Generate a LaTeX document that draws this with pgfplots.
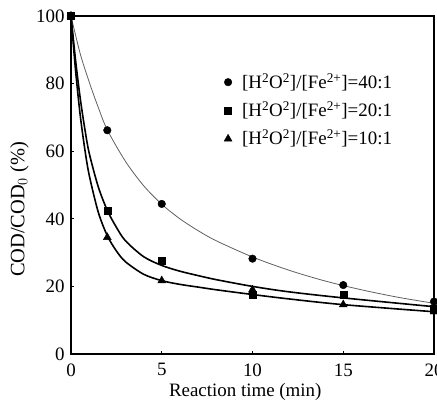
\documentclass[border=0pt]{standalone}
\usepackage{pgfplots}
\pgfplotsset{compat=1.18}
\usepackage{fontspec}
\setmainfont{Liberation Serif}

\begin{document}
\fontsize{19}{22}\selectfont
\begin{tikzpicture}
\begin{axis}[
name=ax,
scale only axis,
width=363bp, height=338bp,
xmin=0, xmax=20, ymin=0, ymax=100,
xtick={0,5,10,15,20}, ytick={0,20,40,60,80,100},
axis line style={line width=2bp},
tick style={line width=0.8bp, black},
major tick length=3bp,
tick align=inside,
xtick pos=bottom, ytick pos=left,
tick label style={font=\fontsize{19}{22}\selectfont},
xticklabel style={yshift=-3bp},
/pgf/number format/assume math mode=true,
xlabel={Reaction time (min)},
ylabel={COD/COD$_0$ (\%)},
xlabel style={font=\fontsize{19}{22}\selectfont, at={(axis description cs:0.48,-0.113)}, anchor=center},
ylabel style={font=\fontsize{20.5}{22}\selectfont, at={(axis description cs:-0.142,0.428)}, anchor=center},
legend style={draw=none, fill=none, at={(0.413,0.843)}, anchor=north west,
  font=\fontsize{19}{22}\selectfont, row sep=6.5bp,
  /tikz/every odd column/.append style={column sep=8bp}},
legend cell align=left,
clip=false,
]
% fitted curves
\addplot[gray!75!black, line width=0.8bp, smooth, forget plot] coordinates {
(0,100)(0.5,89)(1,80.5)(1.5,73)(2,66.3)(3,57)(4,49.8)(5,44.3)(6,40)(7,36.5)(8,33.5)(10,28.7)(12,24.8)(14,21.6)(16,19)(18,16.8)(20,15)};
\addplot[black, line width=1.6bp, smooth, forget plot] coordinates {
(0,100)(0.25,87)(0.5,76)(0.75,67)(1,59.5)(1.5,49.5)(2,42.5)(2.5,37.5)(3,33.5)(4,28.8)(5,26.2)(6,24.5)(7,23.2)(8,22)(10,20)(12,18.4)(15,16.6)(20,14)};
\addplot[black, line width=1.6bp, smooth, forget plot] coordinates {
(0,100)(0.25,84)(0.5,71)(0.75,61)(1,53)(1.5,42)(2,35)(2.5,30.5)(3,27.3)(4,23.6)(5,21.7)(6,20.6)(7,19.8)(8,19)(10,17.6)(12,16.3)(15,14.6)(20,12.5)};
% data
\addplot[only marks, mark=*, mark size=3.8bp, black] coordinates {
(0,100)(2,66.2)(5,44.4)(10,28.2)(15,20.4)(20,15.5)};
\addlegendentry{[H\textsuperscript{2}O\textsuperscript{2}]/[Fe\textsuperscript{2+}]=40:1}
\addplot[only marks, mark=square*, mark size=3.5bp, black] coordinates {
(0,100)(2,42.4)(5,27.6)(10,17.6)(15,17.6)(20,13.5)};
\addlegendentry{[H\textsuperscript{2}O\textsuperscript{2}]/[Fe\textsuperscript{2+}]=20:1}
\addplot[only marks, mark=triangle*, mark size=4.6bp, black] coordinates {
(0,100)(2,34.5)(5,21.7)(10,19)(15,14.6)(20,12.5)};
\addlegendentry{[H\textsuperscript{2}O\textsuperscript{2}]/[Fe\textsuperscript{2+}]=10:1}
\end{axis}
\pgfresetboundingbox
\path[use as bounding box] ([xshift=-71bp,yshift=-46bp]ax.south west) rectangle ([xshift=3bp,yshift=16bp]ax.north east);
\end{tikzpicture}
\end{document}
